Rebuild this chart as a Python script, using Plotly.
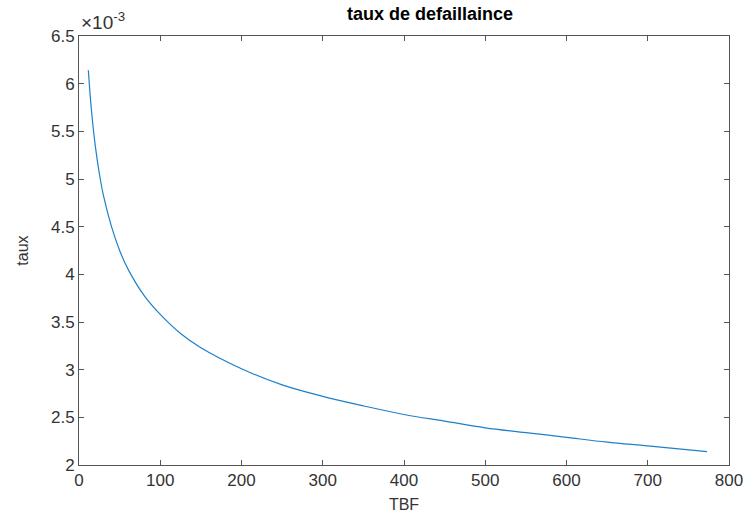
import plotly.graph_objects as go

# TBF values (hours) and failure rate (in units of 1e-3)
tbf = [11.5, 15, 20, 25, 30, 40, 50, 60, 80, 100, 125, 150, 200, 250, 300,
       350, 400, 450, 500, 550, 600, 650, 700, 773]
taux_e3 = [6.14, 5.75, 5.35, 5.06, 4.83, 4.50, 4.25, 4.06, 3.78, 3.58, 3.38,
           3.23, 3.01, 2.84, 2.72, 2.62, 2.53, 2.46, 2.39, 2.34, 2.29, 2.24,
           2.20, 2.14]

x_ticks = [0, 100, 200, 300, 400, 500, 600, 700, 800]
y_ticks = [2, 2.5, 3, 3.5, 4, 4.5, 5, 5.5, 6, 6.5]
y_labels = ["2", "2.5", "3", "3.5", "4", "4.5", "5", "5.5", "6", "6.5"]

axis_col = "#555555"
txt_col = "#333333"
font_fam = "Liberation Sans, Arial, sans-serif"

fig = go.Figure()
fig.add_trace(go.Scatter(x=tbf, y=taux_e3, mode="lines",
                         line=dict(color="#1f80c8", width=1.2, shape="spline"),
                         showlegend=False))

fig.update_layout(
    width=748, height=516,
    margin=dict(l=79, r=19, t=36, b=51, autoexpand=False),
    paper_bgcolor="white", plot_bgcolor="white",
    font=dict(family=font_fam, color=txt_col, size=16),
    title=dict(text="<b>taux de defaillaince</b>", x=(79 + 729) / 2 / 748, xref="paper",
               xanchor="center", y=1 - 14 / 516, yanchor="middle",
               font=dict(size=18, color="black")),
    xaxis=dict(range=[0, 800], tickvals=x_ticks, ticks="inside", ticklen=5,
               tickcolor=axis_col, showline=True, linecolor=axis_col, linewidth=1,
               mirror="ticks", showgrid=False, zeroline=False, automargin=False,
               tickfont=dict(size=17, color=txt_col),
               title=dict(text="TBF", font=dict(size=16, color=txt_col), standoff=9)),
    yaxis=dict(range=[2, 6.5], tickvals=y_ticks, ticktext=y_labels, ticks="inside",
               ticklen=5, tickcolor=axis_col, showline=True, linecolor=axis_col,
               linewidth=1, mirror="ticks", showgrid=False, zeroline=False,
               automargin=False,
               tickfont=dict(size=17, color=txt_col),
               title=dict(text="taux", font=dict(size=16, color=txt_col), standoff=18)),
    annotations=[dict(text="×10<sup>-3</sup>", xref="paper", yref="paper",
                      x=0, y=1, xanchor="left", yanchor="bottom", yshift=1,
                      showarrow=False, font=dict(size=19, color=txt_col))],
)

fig.write_html("out.html")
